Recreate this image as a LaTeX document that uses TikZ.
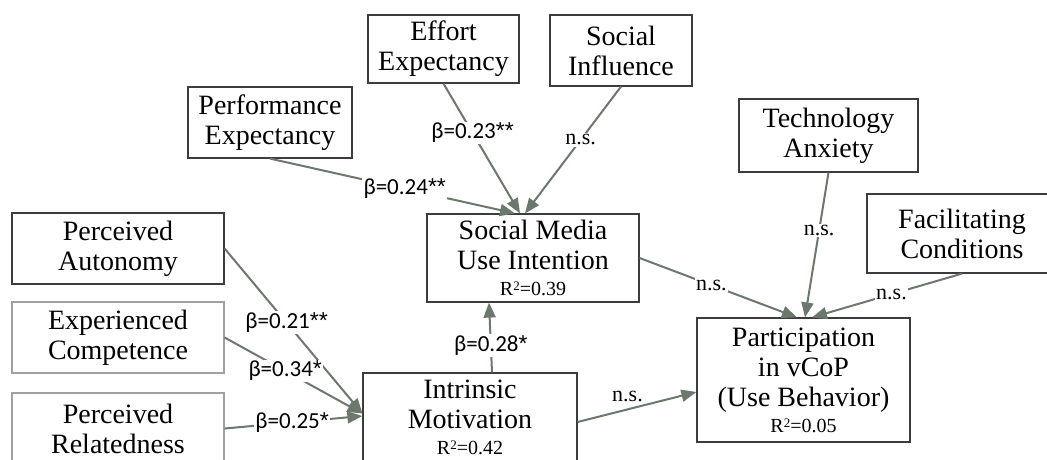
\documentclass[tikz,border=0pt]{standalone}
\usepackage{fontspec}
\setmainfont{Liberation Serif}
\newfontfamily\lblfont{Carlito}
\newfontfamily\starfont{Liberation Sans}
\usetikzlibrary{arrows.meta}
\definecolor{edgegray}{RGB}{108,120,110}
\definecolor{boxdark}{RGB}{60,60,60}
\definecolor{boxlight}{RGB}{160,160,160}
\tikzset{
  box/.style={draw=boxdark, line width=1.2pt, fill=white, rectangle, inner sep=0pt,
    align=center, font=\fontsize{28}{30}\selectfont},
  lightbox/.style={box, draw=boxlight},
  path/.style={draw=edgegray, line width=2pt,
    -{Triangle[length=15pt,width=12pt]}},
  coef/.style={fill=white, inner sep=1.5pt, font=\lblfont\fontsize{23}{25}\selectfont},
  nslbl/.style={fill=white, inner sep=1.5pt, font=\fontsize{22}{24}\selectfont},
}
% explained variance line under a construct name
\newcommand{\rsq}[1]{\\[-4pt]{\fontsize{20}{22}\selectfont R\raisebox{5pt}{\fontsize{13}{13}\selectfont 2}=#1}}
% significance stars
\newcommand{\sig}[1]{{\starfont #1}}
\begin{document}
\begin{tikzpicture}[x=1pt,y=-1pt]
\useasboundingbox (0,0) rectangle (1047,459);
\clip (0,0) rectangle (1047,459);
\fill[white] (0,0) rectangle (1047,459);

% UTAUT predictors
\node[box, minimum width=164pt, minimum height=71pt] (pe) at (270,122.5) {Performance\\Expectancy};
\node[box, minimum width=151pt, minimum height=68pt] (ee) at (443.5,49) {Effort\\Expectancy};
\node[box, minimum width=142pt, minimum height=71pt] (si) at (621,50.5) {Social\\Influence};
\node[box, minimum width=179pt, minimum height=73pt] (ta) at (828.5,135.5) {Technology\\Anxiety};
\node[box, minimum width=190pt, minimum height=79pt] (fc) at (962,233.5) {Facilitating\\Conditions};

% basic psychological needs
\node[box, minimum width=212pt, minimum height=71pt] (pa) at (118,248.5) {Perceived\\Autonomy};
\node[lightbox, minimum width=212pt, minimum height=71pt] (ec) at (118,337.5) {Experienced\\Competence};
\node[lightbox, minimum width=212pt, minimum height=71pt] (pr) at (118,428.5) {Perceived\\Relatedness};

% mediators and outcome
\node[box, minimum width=212pt, minimum height=88pt] (smui) at (533,258) {Social Media\\Use Intention\rsq{0.39}};
\node[box, minimum width=214pt, minimum height=89pt] (im) at (470,417.5) {Intrinsic\\Motivation\rsq{0.42}};
\node[box, minimum width=213pt, minimum height=124pt] (part) at (803.5,380) {Participation\\in vCoP\\(Use Behavior)\rsq{0.05}};

% paths into social media use intention
\draw[path] (pe.south) -- node[coef, pos=0.55] (l1) {β=0.24\sig{**}} ([xshift=-18pt]smui.north);
\draw[path] (ee.south) -- node[coef, pos=0.38] (l2) {β=0.23\sig{**}} ([xshift=-13pt]smui.north);
\draw[path] (si.south) -- node[nslbl, pos=0.42] (l3) {n.s.} ([xshift=-8pt]smui.north);

% paths into intrinsic motivation
\draw[path] (pa.east) -- node[coef, pos=0.45] (l4) {β=0.21\sig{**}} ([yshift=4pt]im.west);
\draw[path] (ec.east) -- node[coef, pos=0.44] (l5) {β=0.34\sig{*}} ([yshift=4pt]im.west);
\draw[path] (pr.east) -- node[coef, pos=0.49] (l6) {β=0.25\sig{*}} ([yshift=1.5pt]im.west);

% intrinsic motivation onward
\draw[path] ([xshift=22pt]im.north) -- node[coef, pos=0.39] (l7) {β=0.28\sig{*}} ([xshift=-44pt]smui.south);
\draw[path] ([yshift=-4.5pt]im.east) -- node[nslbl, fill=none, pos=0.42, above=5pt] (l8) {n.s.} ([yshift=-12pt]part.west);

% paths into participation
\draw[path] (smui.east) -- node[nslbl, pos=0.456] (l9) {n.s.} ([xshift=-6.5pt]part.north);
\draw[path] (ta.south) -- node[nslbl, pos=0.40] (l10) {n.s.} ([xshift=1.5pt]part.north);
\draw[path] (fc.south) -- node[nslbl, pos=0.47] (l11) {n.s.} ([xshift=8.5pt]part.north);
\end{tikzpicture}
\end{document}
